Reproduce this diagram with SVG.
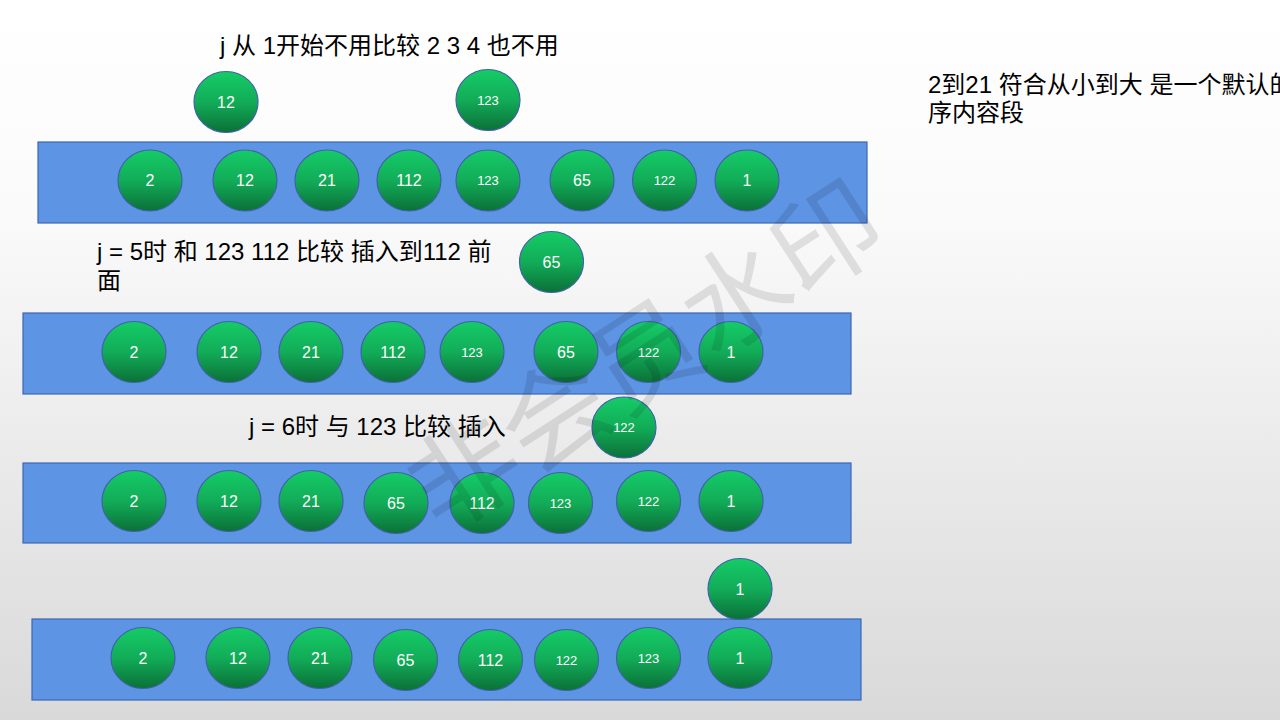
<svg xmlns="http://www.w3.org/2000/svg" width="1280" height="720" viewBox="0 0 1280 720">
<defs>
<linearGradient id="bg" x1="0" y1="0" x2="0" y2="1">
<stop offset="0" stop-color="#ffffff"/>
<stop offset="0.3" stop-color="#fafafa"/>
<stop offset="1" stop-color="#d9d9d9"/>
</linearGradient>
<linearGradient id="ball" x1="0" y1="0" x2="0" y2="1">
<stop offset="0" stop-color="#15cc67"/>
<stop offset="0.5" stop-color="#12ac58"/>
<stop offset="1" stop-color="#0b7038"/>
</linearGradient>
</defs>
<style>
.bar{fill:#5d94e3;stroke:#3d68b2;stroke-width:1.2}
.ball{fill:url(#ball);stroke:#3e63a8;stroke-width:1.2}
.n{font-family:"Liberation Sans",Arial,sans-serif;font-size:16px;fill:#ffffff;text-anchor:middle;dominant-baseline:central}
.s{font-size:13px}
.t{font-family:"Liberation Sans","Noto Sans CJK SC",sans-serif;font-size:24px;fill:#000000}
.wm{font-family:"Noto Sans CJK SC",sans-serif;font-size:108px;font-weight:400;fill:#000000;fill-opacity:0.1}
</style>
<rect x="0" y="0" width="1280" height="720" fill="url(#bg)"/>

<g id="labels">
<text class="t" x="220" y="54">j 从 1开始不用比较 2 3 4 也不用</text>
<text class="t" x="928" y="93">2到21 符合从小到大 是一个默认的</text>
<text class="t" x="928" y="121">序内容段</text>
<text class="t" x="97" y="260">j = 5时 和 123 112 比较 插入到112 前</text>
<text class="t" x="97" y="289">面</text>
<text class="t" x="249" y="435">j = 6时 与 123 比较 插入</text>
</g>

<g id="row1">
<rect class="bar" x="38" y="142" width="829" height="81"/>
<g id="r1-2"><ellipse class="ball" cx="150" cy="180.5" rx="32" ry="30.5"/><text class="n" x="150" y="180.5">2</text></g>
<g id="r1-12"><ellipse class="ball" cx="245" cy="180.5" rx="32" ry="30.5"/><text class="n" x="245" y="180.5">12</text></g>
<g id="r1-21"><ellipse class="ball" cx="327" cy="180.5" rx="32" ry="30.5"/><text class="n" x="327" y="180.5">21</text></g>
<g id="r1-112"><ellipse class="ball" cx="409" cy="180.5" rx="32" ry="30.5"/><text class="n" x="409" y="180.5">112</text></g>
<g id="r1-123"><ellipse class="ball" cx="488" cy="180.5" rx="32" ry="30.5"/><text class="n s" x="488" y="180.5">123</text></g>
<g id="r1-65"><ellipse class="ball" cx="582" cy="180.5" rx="32" ry="30.5"/><text class="n" x="582" y="180.5">65</text></g>
<g id="r1-122"><ellipse class="ball" cx="664.5" cy="180.5" rx="32" ry="30.5"/><text class="n s" x="664.5" y="180.5">122</text></g>
<g id="r1-1"><ellipse class="ball" cx="747" cy="180.5" rx="32" ry="30.5"/><text class="n" x="747" y="180.5">1</text></g>
</g>
<g id="up1-12"><ellipse class="ball" cx="226" cy="102" rx="32" ry="30.5"/><text class="n" x="226" y="102">12</text></g>
<g id="up1-123"><ellipse class="ball" cx="488" cy="100" rx="32" ry="30.5"/><text class="n s" x="488" y="100">123</text></g>

<g id="row2">
<rect class="bar" x="23" y="313" width="828" height="81"/>
<g id="r2-2"><ellipse class="ball" cx="134" cy="352" rx="32" ry="30.5"/><text class="n" x="134" y="352">2</text></g>
<g id="r2-12"><ellipse class="ball" cx="229" cy="352" rx="32" ry="30.5"/><text class="n" x="229" y="352">12</text></g>
<g id="r2-21"><ellipse class="ball" cx="311" cy="352" rx="32" ry="30.5"/><text class="n" x="311" y="352">21</text></g>
<g id="r2-112"><ellipse class="ball" cx="393" cy="352" rx="32" ry="30.5"/><text class="n" x="393" y="352">112</text></g>
<g id="r2-123"><ellipse class="ball" cx="472" cy="352" rx="32" ry="30.5"/><text class="n s" x="472" y="352">123</text></g>
<g id="r2-65"><ellipse class="ball" cx="566" cy="352" rx="32" ry="30.5"/><text class="n" x="566" y="352">65</text></g>
<g id="r2-122"><ellipse class="ball" cx="648.5" cy="352" rx="32" ry="30.5"/><text class="n s" x="648.5" y="352">122</text></g>
<g id="r2-1"><ellipse class="ball" cx="731" cy="352" rx="32" ry="30.5"/><text class="n" x="731" y="352">1</text></g>
</g>
<g id="up2-65"><ellipse class="ball" cx="551.5" cy="262" rx="32" ry="30.5"/><text class="n" x="551.5" y="262">65</text></g>

<g id="row3">
<rect class="bar" x="23" y="463" width="828" height="80"/>
<g id="r3-2"><ellipse class="ball" cx="134" cy="501" rx="32" ry="30.5"/><text class="n" x="134" y="501">2</text></g>
<g id="r3-12"><ellipse class="ball" cx="229" cy="501" rx="32" ry="30.5"/><text class="n" x="229" y="501">12</text></g>
<g id="r3-21"><ellipse class="ball" cx="311" cy="501" rx="32" ry="30.5"/><text class="n" x="311" y="501">21</text></g>
<g id="r3-65"><ellipse class="ball" cx="396" cy="503" rx="32" ry="30.5"/><text class="n" x="396" y="503">65</text></g>
<g id="r3-112"><ellipse class="ball" cx="482" cy="503" rx="32" ry="30.5"/><text class="n" x="482" y="503">112</text></g>
<g id="r3-123"><ellipse class="ball" cx="560.5" cy="503" rx="32" ry="30.5"/><text class="n s" x="560.5" y="503">123</text></g>
<g id="r3-122"><ellipse class="ball" cx="648.5" cy="501" rx="32" ry="30.5"/><text class="n s" x="648.5" y="501">122</text></g>
<g id="r3-1"><ellipse class="ball" cx="731" cy="501" rx="32" ry="30.5"/><text class="n" x="731" y="501">1</text></g>
</g>
<g id="up3-122"><ellipse class="ball" cx="624" cy="427.5" rx="32" ry="30.5"/><text class="n s" x="624" y="427.5">122</text></g>

<g id="row4">
<rect class="bar" x="32" y="619" width="829" height="81"/>
<g id="r4-2"><ellipse class="ball" cx="143" cy="658" rx="32" ry="30.5"/><text class="n" x="143" y="658">2</text></g>
<g id="r4-12"><ellipse class="ball" cx="238" cy="658" rx="32" ry="30.5"/><text class="n" x="238" y="658">12</text></g>
<g id="r4-21"><ellipse class="ball" cx="320" cy="658" rx="32" ry="30.5"/><text class="n" x="320" y="658">21</text></g>
<g id="r4-65"><ellipse class="ball" cx="405.5" cy="660" rx="32" ry="30.5"/><text class="n" x="405.5" y="660">65</text></g>
<g id="r4-112"><ellipse class="ball" cx="490.5" cy="660" rx="32" ry="30.5"/><text class="n" x="490.5" y="660">112</text></g>
<g id="r4-122"><ellipse class="ball" cx="566.5" cy="660" rx="32" ry="30.5"/><text class="n s" x="566.5" y="660">122</text></g>
<g id="r4-123"><ellipse class="ball" cx="648.5" cy="658" rx="32" ry="30.5"/><text class="n s" x="648.5" y="658">123</text></g>
<g id="r4-1"><ellipse class="ball" cx="740" cy="658" rx="32" ry="30.5"/><text class="n" x="740" y="658">1</text></g>
</g>
<g id="up4-1"><ellipse class="ball" cx="740" cy="589" rx="32" ry="30.5"/><text class="n" x="740" y="589">1</text></g>

<text class="wm" x="645" y="395" text-anchor="middle" transform="rotate(-33 645 355)">非会员水印</text>
</svg>
